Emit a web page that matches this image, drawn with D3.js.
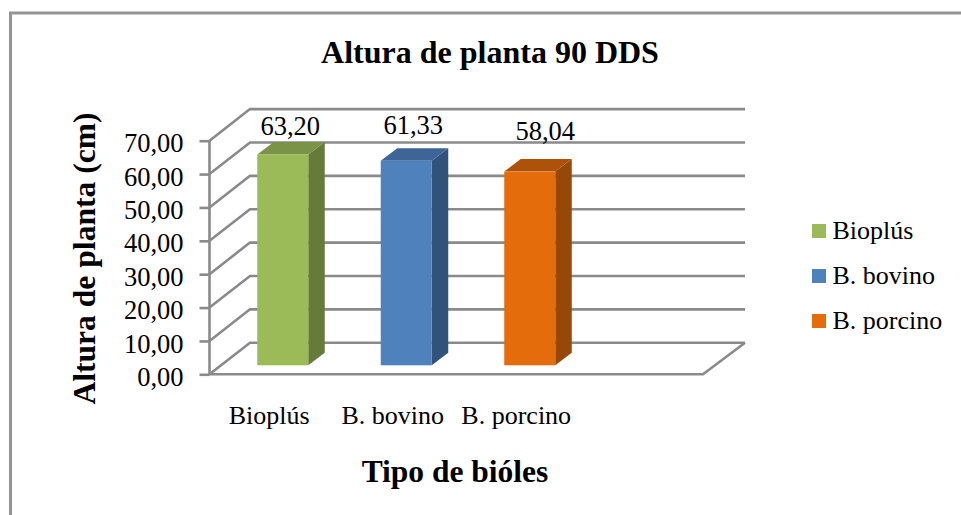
<!DOCTYPE html>
<html><head><meta charset="utf-8">
<script src="https://cdn.jsdelivr.net/npm/d3@7"></script>
<style>html,body{margin:0;padding:0;background:#fff}svg{display:block}text{font-family:"Liberation Serif",serif;fill:#000}</style>
</head><body><svg id="c" width="961" height="515"></svg>
<script>
const categories=["Bioplús","B. bovino","B. porcino"];
const slots=[...categories,""];
const values=[63.20,61.33,58.04];
const frontColors=["#9BBB59","#4F81BD","#E46C0A"];
const topColors=["#7A9347","#3E6595","#AD5208"];
const sideColors=["#667B3A","#31527B","#954807"];
const yTicks=[0,10,20,30,40,50,60,70];
const titleText="Altura de planta 90 DDS", xTitle="Tipo de bióles", yTitle="Altura de planta (cm)";

const svg=d3.select("#c");
const fmt=d=>d3.format(".2f")(d).replace(".",",");
const y=d3.scaleLinear().domain([0,70]).range([374.3,140.7]);
const x=d3.scaleBand().domain(slots).range([221,715]).paddingInner(0.587).paddingOuter(0.2935);
const wallX=209.5,backX=250,backRight=745,frontRight=703,backDy=-31.6;
const barBase=-9,depthX=16.5,depthY=-12.5;
const grid="#8a8a8a";

// frame
svg.append("path").attr("d","M10.5,515V13H961").attr("fill","none").attr("stroke","#949494").attr("stroke-width",3);

// gridlines
const g=svg.append("g").attr("fill","none").attr("stroke",grid).attr("stroke-width",2.6);
g.selectAll("path.g").data(yTicks).join("path").attr("class","g")
 .attr("d",d=>`M${wallX},${y(d)}L${backX},${y(d)+backDy}H${backRight}`);
g.append("path").attr("d",`M${wallX},${y(70)}V${y(0)}H${frontRight}L${backRight},${y(0)+backDy}`);

// y axis
const ax=svg.append("g").attr("transform",`translate(${wallX},0)`)
 .call(d3.axisLeft(y).tickValues(yTicks).tickFormat(fmt).tickSize(10).tickPadding(16));
ax.select(".domain").remove();
ax.selectAll("line").attr("stroke",grid).attr("stroke-width",2.6);
ax.selectAll("text").attr("dy","0.42em").style("font-size","26.5px").style("font-family","Liberation Serif");

// bars
const bars=svg.append("g").selectAll("g").data(values).join("g");
const bx=(d,i)=>x(categories[i]), bw=x.bandwidth();
bars.append("path").attr("fill",(d,i)=>sideColors[i])
 .attr("d",(d,i)=>{const a=bx(d,i)+bw,t=y(d)+barBase,b=y(0)+barBase;return `M${a},${t}l${depthX},${depthY}V${b+depthY}L${a},${b}Z`});
bars.append("path").attr("fill",(d,i)=>topColors[i])
 .attr("d",(d,i)=>{const a=bx(d,i),t=y(d)+barBase;return `M${a},${t}l${depthX},${depthY}h${bw}l${-depthX},${-depthY}Z`});
bars.append("rect").attr("fill",(d,i)=>frontColors[i])
 .attr("x",bx).attr("width",bw).attr("y",d=>y(d)+barBase).attr("height",d=>y(0)-y(d));

// data labels
const labelShift=[[7.5,-19],[7,-27],[15.5,-32]];
svg.append("g").selectAll("text").data(values).join("text")
 .attr("text-anchor","middle").attr("font-size",26.5)
 .attr("x",(d,i)=>bx(d,i)+bw/2+labelShift[i][0])
 .attr("y",(d,i)=>y(d)+barBase+labelShift[i][1]).text(fmt);

// category labels
svg.append("g").selectAll("text").data(categories).join("text")
 .attr("text-anchor","middle").attr("font-size",26)
 .attr("x",(d)=>x(d)+bw/2-13.5).attr("y",424).text(d=>d);

// titles
svg.append("text").attr("x",490).attr("y",62.5).attr("text-anchor","middle").attr("font-size",32).attr("font-weight","bold").text(titleText);
svg.append("text").attr("x",455).attr("y",482).attr("text-anchor","middle").attr("font-size",31.5).attr("font-weight","bold").text(xTitle);
svg.append("text").attr("transform","translate(95,258.5) rotate(-90)").attr("text-anchor","middle").attr("font-size",31.6).attr("font-weight","bold").text(yTitle);

// legend
const leg=svg.append("g").selectAll("g").data(categories).join("g").attr("transform",(d,i)=>`translate(812,${224+45*i})`);
leg.append("rect").attr("width",14).attr("height",14).attr("fill",(d,i)=>frontColors[i]);
leg.append("text").attr("x",20.5).attr("y",15.3).attr("font-size",26).text(d=>d);
</script></body></html>
